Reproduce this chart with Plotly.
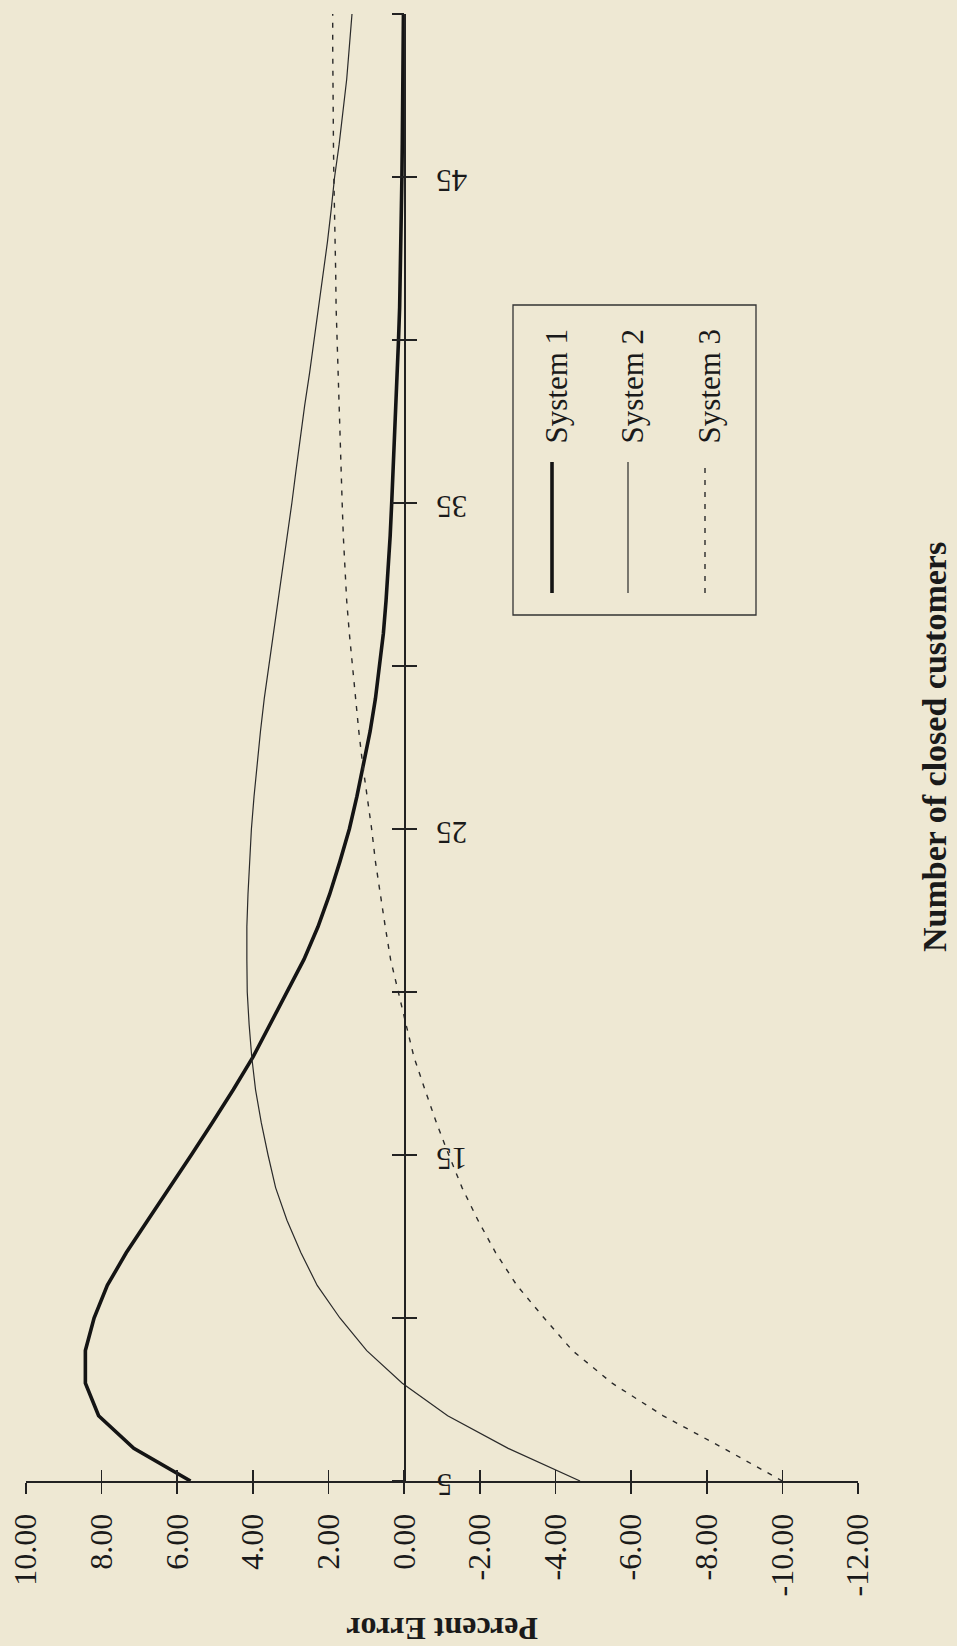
import plotly.graph_objects as go

# ---------------- data ----------------
customers = list(range(5, 51))
system1 = [5.65, 7.15, 8.08, 8.43, 8.43, 8.2, 7.85, 7.35, 6.78, 6.2,
           5.63, 5.07, 4.52, 4.0, 3.55, 3.1, 2.65, 2.28, 1.97, 1.7,
           1.45, 1.25, 1.07, 0.9, 0.76, 0.65, 0.55, 0.48, 0.42, 0.37,
           0.33, 0.29, 0.25, 0.21, 0.18, 0.15, 0.12, 0.1, 0.08, 0.07,
           0.06, 0.05, 0.04, 0.03, 0.02, 0.02]
system2 = [-4.65, -2.75, -1.15, 0.05, 0.99, 1.7, 2.3, 2.73, 3.1, 3.4,
           3.6, 3.78, 3.93, 4.03, 4.1, 4.15, 4.16, 4.16, 4.13, 4.09,
           4.04, 3.97, 3.89, 3.8, 3.7, 3.58, 3.46, 3.33, 3.2, 3.08,
           2.97, 2.86, 2.75, 2.63, 2.5, 2.38, 2.26, 2.14, 2.03, 1.93,
           1.84, 1.72, 1.62, 1.52, 1.45, 1.38]
system3 = [-10.0, -8.45, -6.85, -5.5, -4.45, -3.7, -2.98, -2.42, -1.95, -1.53,
           -1.18, -0.85, -0.55, -0.26, -0.05, 0.15, 0.36, 0.5, 0.62, 0.76,
           0.86, 0.98, 1.1, 1.2, 1.29, 1.37, 1.45, 1.52, 1.57, 1.61,
           1.64, 1.67, 1.7, 1.73, 1.76, 1.78, 1.8, 1.81, 1.83, 1.85,
           1.86, 1.87, 1.88, 1.88, 1.89, 1.89]
series_names = ["System 1", "System 2", "System 3"]

pct_ticks = [10, 8, 6, 4, 2, 0, -2, -4, -6, -8, -10, -12]
pct_labels = ["10.00", "8.00", "6.00", "4.00", "2.00", "0.00",
              "-2.00", "-4.00", "-6.00", "-8.00", "-10.00", "-12.00"]
cust_ticks = [5, 10, 15, 20, 25, 30, 35, 40, 45, 50]
cust_label_vals = [5, 15, 25, 35, 45]
cust_labels = ["5", "15", "25", "35", "45"]

x_title = "Percent Error"
y_title = "Number of closed customers"

# ---------------- styling ----------------
W, H = 957, 1646
L, R, T, B = 26, 99, 14, 165
PW, PH = W - L - R, H - T - B
BG = "#eee8d3"
AX = "#222222"
TXT = "#1a1a1a"
SERIF = "Liberation Serif, Times New Roman, serif"
ZERO_POS = (pct_ticks[0] - 0) / (pct_ticks[0] - pct_ticks[-1])


def px(x):
    return (x - L) / PW


def py(y):
    return (H - B - y) / PH


styles = [
    dict(color="#141414", width=3.6),
    dict(color="#2a2a2a", width=1.2),
    dict(color="#2a2a2a", width=1.4, dash="5px,7px"),
]

fig = go.Figure()
for name, vals, st in zip(series_names, [system1, system2, system3], styles):
    fig.add_trace(go.Scatter(x=vals, y=customers, mode="lines", name=name,
                             line=st, showlegend=False, hoverinfo="skip"))
# helper trace so the overlay axes (crossing tick halves) get drawn
fig.add_trace(go.Scatter(x=[None], y=[None], xaxis="x2", yaxis="y2",
                         showlegend=False, hoverinfo="skip"))

common = dict(showgrid=False, zeroline=False, automargin=False, fixedrange=True)

fig.update_layout(
    width=W, height=H,
    margin=dict(l=L, r=R, t=T, b=B, pad=0),
    paper_bgcolor=BG, plot_bgcolor=BG,
    showlegend=False,
    font=dict(family=SERIF, color=TXT),
    xaxis=dict(range=[pct_ticks[0], pct_ticks[-1]], anchor="y",
               tickmode="array", tickvals=pct_ticks, ticktext=pct_labels,
               tickangle=-90, ticks="outside", ticklen=11, tickwidth=1.6,
               tickcolor=AX, showline=True, linewidth=2, linecolor=AX,
               tickfont=dict(family=SERIF, size=32, color=TXT),
               ticklabelstandoff=7, **common),
    xaxis2=dict(range=[pct_ticks[0], pct_ticks[-1]], overlaying="x", anchor="y2",
                side="bottom", tickmode="array", tickvals=pct_ticks,
                ticks="inside", ticklen=11, tickwidth=1.6, tickcolor=AX,
                showticklabels=False, showline=False, **common),
    yaxis=dict(range=[cust_ticks[0], cust_ticks[-1]], anchor="free",
               position=ZERO_POS, side="left", tickmode="array",
               tickvals=cust_ticks, ticks="outside", ticklen=12, tickwidth=1.6,
               tickcolor=AX, showline=True, linewidth=1.6, linecolor=AX,
               showticklabels=False, **common),
    yaxis2=dict(range=[cust_ticks[0], cust_ticks[-1]], overlaying="y",
                anchor="free", position=ZERO_POS, side="left",
                tickmode="array", tickvals=cust_ticks, ticks="inside",
                ticklen=12, tickwidth=1.6, tickcolor=AX,
                showticklabels=False, showline=False, **common),
)

ann = []
# customer tick labels (upside down, right of the zero axis)
for v, t in zip(cust_label_vals, cust_labels):
    ann.append(dict(x=0, y=v, xref="x", yref="y", text=t, showarrow=False,
                    textangle=180, xanchor="left", yanchor="middle",
                    xshift=30, yshift=-4,
                    font=dict(family=SERIF, size=31, color=TXT)))

# axis titles
ann.append(dict(x=px(442), y=py(1629), xref="paper", yref="paper", text=x_title,
                showarrow=False, textangle=180, xanchor="center", yanchor="middle",
                font=dict(family=SERIF, size=32, color=TXT, weight="bold")))
ann.append(dict(x=px(934), y=py(747), xref="paper", yref="paper", text=y_title,
                showarrow=False, textangle=-90, xanchor="center", yanchor="middle",
                font=dict(family=SERIF, size=34, color=TXT, weight="bold")))

# legend box (rotated, drawn by hand)
shapes = [dict(type="rect", xref="paper", yref="paper",
               x0=px(513), x1=px(756), y0=py(615), y1=py(305),
               line=dict(color="#333333", width=1.3), fillcolor="rgba(0,0,0,0)")]
leg_x = [552, 628, 705]
for name, st, lx in zip(series_names, styles, leg_x):
    shapes.append(dict(type="line", xref="paper", yref="paper",
                       x0=px(lx), x1=px(lx), y0=py(593), y1=py(462),
                       line=dict(color=st["color"], width=st["width"],
                                 dash=st.get("dash", "solid"))))
    ann.append(dict(x=px(lx + 4), y=py(446), xref="paper", yref="paper",
                    text=name, showarrow=False, textangle=-90,
                    xanchor="center", yanchor="bottom",
                    font=dict(family=SERIF, size=31, color=TXT)))

fig.update_layout(annotations=ann, shapes=shapes)
fig.write_html("out.html",
               config={"displayModeBar": False, "staticPlot": True},
               post_script="document.body.style.margin='0px';"
                           "document.body.style.padding='0px';"
                           "document.body.style.background='" + BG + "';")
